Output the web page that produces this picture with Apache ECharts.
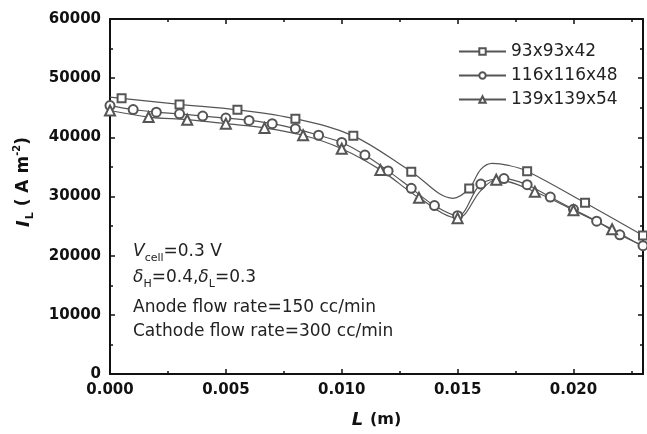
<!DOCTYPE html>
<html><head><meta charset="utf-8">
<script src="https://cdn.jsdelivr.net/npm/echarts@6/dist/echarts.min.js"></script>
<style>html,body{margin:0;padding:0;background:#fff}#c{width:647px;height:434px}</style>
</head><body><div id="c"></div>
<script>
// Series names
const names = ['93x93x42', '116x116x48', '139x139x54'];
// Marker readings (x in m, y in A m^-2)
const sqX = [0.0005, 0.003, 0.0055, 0.008, 0.0105, 0.013, 0.0155, 0.018, 0.0205, 0.023];
const sqY = [46600, 45570, 44650, 43140, 40250, 34200, 31350, 34280, 28930, 23410];
const ciX = [0, 0.001, 0.002, 0.003, 0.004, 0.005, 0.006, 0.007, 0.008, 0.009, 0.010, 0.011, 0.012, 0.013, 0.014, 0.015, 0.016, 0.017, 0.018, 0.019, 0.020, 0.021, 0.022, 0.023];
const ciY = [45370, 44700, 44260, 43980, 43600, 43260, 42860, 42310, 41470, 40350, 39130, 37010, 34330, 31390, 28460, 26760, 32110, 33030, 31990, 29900, 27840, 25820, 23530, 21690];
const trX = [0, 0.001667, 0.003333, 0.005, 0.006667, 0.008333, 0.010, 0.011667, 0.013333, 0.015, 0.016667, 0.018333, 0.020, 0.021667];
const trY = [44530, 43430, 42980, 42310, 41590, 40350, 38080, 34500, 29770, 26340, 32830, 30800, 27680, 24460];
// Extra points (no marker)
const sqCurveX = [0, 0.0148, 0.0160, 0.0165, 0.0172];
const sqCurveY = [46800, 29700, 34600, 35600, 35250];
const ciCurveX = [];
const ciCurveY = [];
const trCurveX = [0.0160, 0.023];
const trCurveY = [31000, 21500];
// Axis ticks
const xTicks = [0.000, 0.005, 0.010, 0.015, 0.020];
const yTicks = [0, 10000, 20000, 30000, 40000, 50000, 60000];

function build(mx, my, cx, cy) {
  const pts = [];
  mx.forEach((x, i) => pts.push({ value: [x, my[i]] }));
  cx.forEach((x, i) => pts.push({ value: [x, cy[i]], symbol: 'none' }));
  pts.sort((a, b) => a.value[0] - b.value[0]);
  return pts;
}

const FONT = 'DejaVu Sans';
const chart = echarts.init(document.getElementById('c'), null, { renderer: 'canvas' });
const lineCol = '#555';
function ser(name, data, symbol, size) {
  return {
    name, type: 'line', data, smooth: 0.35, symbol, symbolSize: size,
    showAllSymbol: true, z: 3,
    lineStyle: { color: lineCol, width: 1.2 },
    itemStyle: { color: lineCol, borderColor: lineCol, borderWidth: 1 },
    emphasis: { disabled: true }, animation: false
  };
}
function axisCommon() {
  return {
    axisLine: { show: true, onZero: false, lineStyle: { color: '#111', width: 2 } },
    axisTick: { show: true, inside: true, length: 5, lineStyle: { color: '#111', width: 1.5 } },
    minorTick: { show: true, splitNumber: 2, length: 3, lineStyle: { color: '#111', width: 1.5 } },
    splitLine: { show: false }
  };
}
const option = {
  animation: false,
  backgroundColor: '#fff',
  grid: { left: 110, top: 19, right: 4, bottom: 56, containLabel: false },
  legend: {
    data: names, orient: 'vertical', left: 458, top: 43,
    itemWidth: 47, itemHeight: 8, itemGap: 7, padding: 0,
    textStyle: { fontFamily: FONT, fontSize: 17, color: '#222', lineHeight: 17 }
  },
  xAxis: [
    Object.assign(axisCommon(), {
      type: 'value', min: 0, max: 0.023, interval: 0.005, position: 'bottom',
      axisLabel: { show: true, margin: 9, showMaxLabel: false, fontFamily: FONT, fontWeight: 'bold', fontSize: 15, color: '#111',
        formatter: v => xTicks.some(t => Math.abs(t - v) < 1e-9) ? v.toFixed(3) : '' },
      name: '{i|L}  {n|(m)}', nameLocation: 'middle', nameGap: 37,
      nameTextStyle: { rich: {
        i: { fontFamily: FONT, fontSize: 18, fontWeight: 'bold', fontStyle: 'italic', color: '#111' },
        n: { fontFamily: FONT, fontSize: 16, fontWeight: 'bold', color: '#111' } } }
    }),
    Object.assign(axisCommon(), {
      type: 'value', min: 0, max: 0.023, interval: 0.005, position: 'top',
      axisLabel: { show: false }
    })
  ],
  yAxis: [
    Object.assign(axisCommon(), {
      type: 'value', min: 0, max: 60000, interval: 10000, position: 'left',
      axisLabel: { margin: 9, fontFamily: FONT, fontWeight: 'bold', fontSize: 15, color: '#111',
        formatter: v => yTicks.includes(v) ? String(v) : '' }
    }),
    Object.assign(axisCommon(), {
      type: 'value', min: 0, max: 60000, interval: 10000, position: 'right',
      axisLabel: { show: false }
    })
  ],
  graphic: [
    { type: 'text', x: 24, y: 182, rotation: Math.PI / 2,
      style: { text: '{i|I}{s|L}{n|( A m}{p|-2}{n|)}', align: 'center', verticalAlign: 'middle',
        rich: {
          i: { fontFamily: FONT, fontSize: 18, fontWeight: 'bold', fontStyle: 'italic', fill: '#111', lineHeight: 24 },
          s: { fontFamily: FONT, fontSize: 11, fontWeight: 'bold', fill: '#111', verticalAlign: 'bottom', lineHeight: 14, padding: [0, 6, 0, 1] },
          n: { fontFamily: FONT, fontSize: 17, fontWeight: 'bold', fill: '#111', lineHeight: 24 },
          p: { fontFamily: FONT, fontSize: 10, fontWeight: 'bold', fill: '#111', verticalAlign: 'top', lineHeight: 12 }
        } } },
    { type: 'text', left: 133, top: 243,
      style: { text: '{i|V}{s|cell}{n|=0.3 V}',
        rich: {
          i: { fontFamily: FONT, fontSize: 17, fontStyle: 'italic', fill: '#222', lineHeight: 24 },
          s: { fontFamily: FONT, fontSize: 11, fill: '#222', verticalAlign: 'bottom', lineHeight: 12 },
          n: { fontFamily: FONT, fontSize: 17, fill: '#222', lineHeight: 24 }
        } } },
    { type: 'text', left: 133, top: 269,
      style: { text: '{i|δ}{s|H}{n|=0.4,}{i|δ}{s|L}{n|=0.3}',
        rich: {
          i: { fontFamily: FONT, fontSize: 17, fontStyle: 'italic', fill: '#222', lineHeight: 24 },
          s: { fontFamily: FONT, fontSize: 11, fill: '#222', verticalAlign: 'bottom', lineHeight: 12 },
          n: { fontFamily: FONT, fontSize: 17, fill: '#222', lineHeight: 24 }
        } } },
    { type: 'text', left: 133, top: 299,
      style: { text: 'Anode flow rate=150 cc/min', fontFamily: FONT, fontSize: 17, fill: '#222' } },
    { type: 'text', left: 133, top: 323,
      style: { text: 'Cathode flow rate=300 cc/min', fontFamily: FONT, fontSize: 17, fill: '#222' } }
  ],
  series: [
    ser(names[0], build(sqX, sqY, sqCurveX, sqCurveY), 'emptyRect', 8),
    ser(names[1], build(ciX, ciY, ciCurveX, ciCurveY), 'emptyCircle', 9),
    ser(names[2], build(trX, trY, trCurveX, trCurveY), 'emptyTriangle', 10)
  ]
};
chart.setOption(option);
</script></body></html>
